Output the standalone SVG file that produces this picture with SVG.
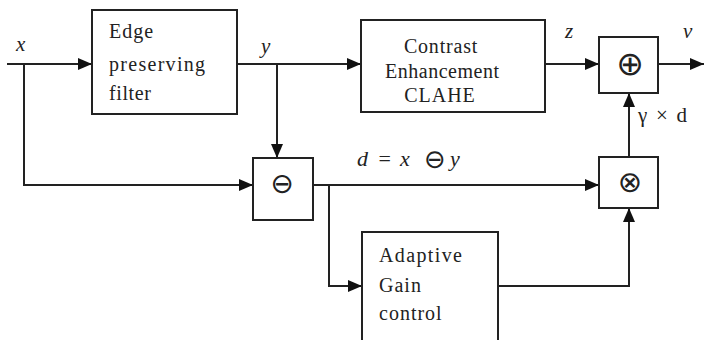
<svg xmlns="http://www.w3.org/2000/svg" width="705" height="340" viewBox="0 0 705 340">
<style>
.box{fill:#fff;stroke:#222;stroke-width:2}
.ln{fill:none;stroke:#222;stroke-width:2}
</style>
<defs>
<marker id="ah" markerUnits="userSpaceOnUse" markerWidth="14" markerHeight="12" refX="14" refY="6" orient="auto">
<path d="M0,0 L14,6 L0,12 z" fill="#111"/>
</marker>
</defs>
<rect width="705" height="340" fill="#fff"/>
<g id="connectors">
<path class="ln" d="M7,64 H92" marker-end="url(#ah)"/>
<path class="ln" d="M24,64 V185 H253" marker-end="url(#ah)"/>
<path class="ln" d="M237,64 H361" marker-end="url(#ah)"/>
<path class="ln" d="M277,64 V158" marker-end="url(#ah)"/>
<path class="ln" d="M545,64 H599" marker-end="url(#ah)"/>
<path class="ln" d="M658,64 H704" marker-end="url(#ah)"/>
<path class="ln" d="M313,185 H599" marker-end="url(#ah)"/>
<path class="ln" d="M329,185 V286 H362" marker-end="url(#ah)"/>
<path class="ln" d="M498,286 H629 V208" marker-end="url(#ah)"/>
<path class="ln" d="M629,157 V93" marker-end="url(#ah)"/>
</g>
<g id="filter">
<rect class="box" x="92" y="10" width="145" height="104"/>
<text x="109" y="38" font-family="Liberation Serif, serif" font-size="20" fill="#222" letter-spacing="1">Edge</text>
<text x="109" y="71" font-family="Liberation Serif, serif" font-size="20" fill="#222" textLength="96">preserving</text>
<text x="109" y="100" font-family="Liberation Serif, serif" font-size="20" fill="#222" letter-spacing="0.6">filter</text>
</g>
<g id="clahe">
<rect class="box" x="361" y="20" width="184" height="92"/>
<text x="441" y="53" font-family="Liberation Serif, serif" font-size="20" fill="#222" text-anchor="middle" letter-spacing="0.8">Contrast</text>
<text x="442" y="78" font-family="Liberation Serif, serif" font-size="20" fill="#222" text-anchor="middle" textLength="114">Enhancement</text>
<text x="440" y="102" font-family="Liberation Serif, serif" font-size="20" fill="#222" text-anchor="middle" letter-spacing="1">CLAHE</text>
</g>
<g id="adder">
<rect class="box" x="599" y="37" width="59" height="56"/>
<text x="630" y="75" font-family="DejaVu Sans, sans-serif" font-size="33" fill="#222" text-anchor="middle">⊕</text>
</g>
<g id="subtract">
<rect class="box" x="253" y="158" width="60" height="62"/>
<text x="282" y="193" font-family="DejaVu Sans, sans-serif" font-size="28" fill="#222" text-anchor="middle">⊖</text>
</g>
<g id="multiply">
<rect class="box" x="599" y="157" width="59" height="51"/>
<text x="630" y="192" font-family="DejaVu Sans, sans-serif" font-size="29" fill="#222" text-anchor="middle">⊗</text>
</g>
<g id="gain">
<rect class="box" x="362" y="232" width="136" height="120"/>
<text x="379" y="262" font-family="Liberation Serif, serif" font-size="20" fill="#222" textLength="83">Adaptive</text>
<text x="379" y="292" font-family="Liberation Serif, serif" font-size="20" fill="#222" letter-spacing="1">Gain</text>
<text x="379" y="320" font-family="Liberation Serif, serif" font-size="20" fill="#222" letter-spacing="1">control</text>
</g>
<g id="labels">
<text x="16" y="51" font-family="Liberation Serif, serif" font-style="italic" font-size="21" fill="#222">x</text>
<text x="261" y="53" font-family="Liberation Serif, serif" font-style="italic" font-size="21" fill="#222">y</text>
<text x="565" y="38" font-family="Liberation Serif, serif" font-style="italic" font-size="21" fill="#222">z</text>
<text x="683" y="38" font-family="Liberation Serif, serif" font-style="italic" font-size="21" fill="#222">v</text>
<text y="166" font-family="Liberation Serif, serif" font-size="22" fill="#222"><tspan x="357" font-style="italic">d</tspan><tspan x="373"> = </tspan><tspan x="400" font-style="italic">x</tspan><tspan x="435" y="168" font-family="DejaVu Sans, sans-serif" font-size="26" text-anchor="middle">⊖</tspan><tspan x="450" y="166" font-style="italic">y</tspan></text>
<text x="638" y="122" font-family="Liberation Serif, serif" font-size="21" fill="#222" textLength="49">γ × d</text>
</g>
</svg>
